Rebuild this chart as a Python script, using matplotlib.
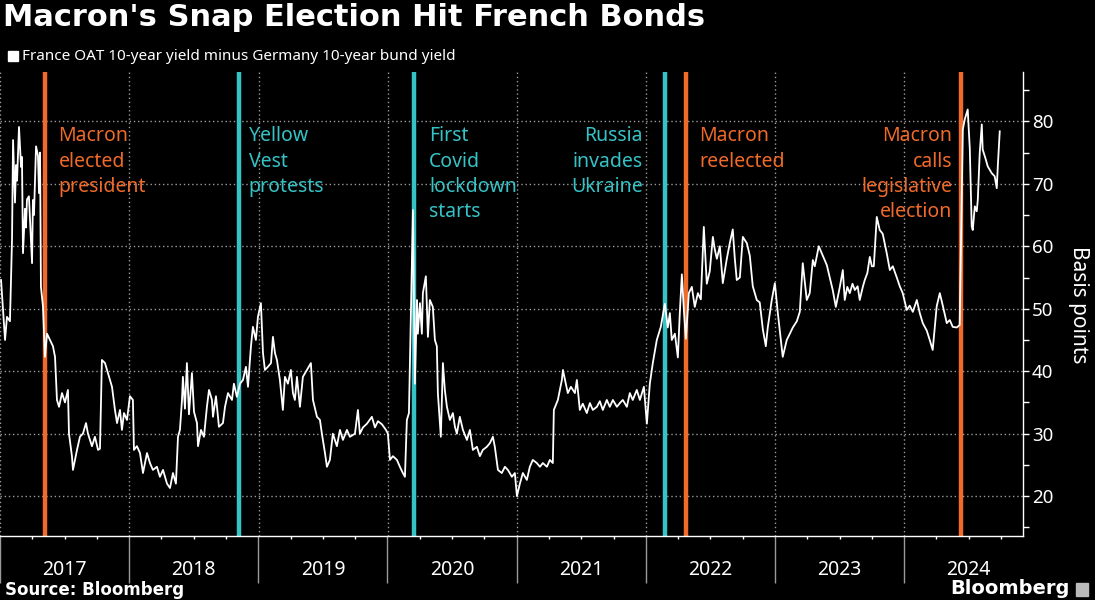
import matplotlib
matplotlib.use('Agg')
import matplotlib.pyplot as plt
from matplotlib.patches import Rectangle
from matplotlib.ticker import FixedLocator, MultipleLocator

# France OAT 10y minus Bund 10y spread, basis points
years = [
    2017.008, 2017.023, 2017.039, 2017.054, 2017.077, 2017.093, 2017.101, 2017.116, 2017.124, 2017.132,
    2017.147, 2017.163, 2017.170, 2017.178, 2017.194, 2017.201, 2017.209, 2017.224, 2017.248, 2017.255,
    2017.263, 2017.279, 2017.294, 2017.302, 2017.310, 2017.317, 2017.333, 2017.348, 2017.364, 2017.387,
    2017.410, 2017.426, 2017.441, 2017.457, 2017.480, 2017.503, 2017.526, 2017.534, 2017.557, 2017.565,
    2017.596, 2017.619, 2017.642, 2017.666, 2017.681, 2017.712, 2017.735, 2017.759, 2017.774, 2017.789,
    2017.813, 2017.836, 2017.867, 2017.890, 2017.906, 2017.929, 2017.944, 2017.960, 2017.983, 2018.006,
    2018.029, 2018.037, 2018.060, 2018.084, 2018.107, 2018.138, 2018.161, 2018.184, 2018.215, 2018.238,
    2018.262, 2018.293, 2018.316, 2018.339, 2018.362, 2018.378, 2018.393, 2018.409, 2018.416, 2018.432,
    2018.447, 2018.463, 2018.486, 2018.502, 2018.525, 2018.533, 2018.556, 2018.579, 2018.602, 2018.618,
    2018.641, 2018.649, 2018.672, 2018.695, 2018.726, 2018.742, 2018.765, 2018.796, 2018.811, 2018.834,
    2018.858, 2018.881, 2018.904, 2018.920, 2018.943, 2018.958, 2018.981, 2018.997, 2019.020, 2019.036,
    2019.051, 2019.074, 2019.098, 2019.113, 2019.129, 2019.144, 2019.167, 2019.190, 2019.206, 2019.229,
    2019.252, 2019.268, 2019.283, 2019.299, 2019.322, 2019.345, 2019.376, 2019.407, 2019.423, 2019.454,
    2019.477, 2019.492, 2019.516, 2019.531, 2019.554, 2019.577, 2019.608, 2019.632, 2019.655, 2019.686,
    2019.709, 2019.748, 2019.771, 2019.786, 2019.810, 2019.841, 2019.879, 2019.903, 2019.926, 2019.957,
    2019.988, 2020.003, 2020.019, 2020.042, 2020.073, 2020.096, 2020.119, 2020.135, 2020.150, 2020.166,
    2020.181, 2020.197, 2020.212, 2020.228, 2020.235, 2020.251, 2020.266, 2020.274, 2020.297, 2020.313,
    2020.328, 2020.351, 2020.367, 2020.382, 2020.390, 2020.413, 2020.429, 2020.444, 2020.460, 2020.483,
    2020.506, 2020.522, 2020.537, 2020.560, 2020.584, 2020.615, 2020.638, 2020.661, 2020.692, 2020.715,
    2020.738, 2020.769, 2020.793, 2020.816, 2020.831, 2020.855, 2020.885, 2020.909, 2020.932, 2020.963,
    2020.986, 2021.002, 2021.025, 2021.048, 2021.079, 2021.102, 2021.125, 2021.156, 2021.180, 2021.203,
    2021.234, 2021.257, 2021.280, 2021.288, 2021.319, 2021.350, 2021.358, 2021.381, 2021.396, 2021.420,
    2021.451, 2021.466, 2021.489, 2021.512, 2021.543, 2021.567, 2021.590, 2021.621, 2021.644, 2021.667,
    2021.698, 2021.721, 2021.745, 2021.776, 2021.799, 2021.822, 2021.853, 2021.876, 2021.899, 2021.930,
    2021.954, 2021.985, 2022.008, 2022.031, 2022.054, 2022.085, 2022.116, 2022.147, 2022.170, 2022.186,
    2022.201, 2022.225, 2022.248, 2022.263, 2022.279, 2022.294, 2022.310, 2022.333, 2022.356, 2022.379,
    2022.403, 2022.426, 2022.449, 2022.472, 2022.495, 2022.519, 2022.534, 2022.550, 2022.573, 2022.596,
    2022.627, 2022.650, 2022.673, 2022.689, 2022.704, 2022.728, 2022.751, 2022.782, 2022.805, 2022.828,
    2022.859, 2022.882, 2022.906, 2022.929, 2022.944, 2022.975, 2022.999, 2023.022, 2023.045, 2023.060,
    2023.091, 2023.115, 2023.138, 2023.169, 2023.192, 2023.215, 2023.246, 2023.269, 2023.293, 2023.308,
    2023.339, 2023.370, 2023.401, 2023.424, 2023.447, 2023.471, 2023.502, 2023.525, 2023.540, 2023.560,
    2023.579, 2023.600, 2023.618, 2023.640, 2023.656, 2023.680, 2023.695, 2023.715, 2023.734, 2023.750,
    2023.765, 2023.788, 2023.811, 2023.834, 2023.865, 2023.889, 2023.912, 2023.943, 2023.966, 2023.989,
    2024.020, 2024.043, 2024.067, 2024.098, 2024.121, 2024.144, 2024.175, 2024.198, 2024.221, 2024.252,
    2024.276, 2024.299, 2024.330, 2024.353, 2024.376, 2024.407, 2024.430, 2024.438, 2024.454, 2024.469,
    2024.492, 2024.508, 2024.523, 2024.531, 2024.547, 2024.562, 2024.570, 2024.585, 2024.601, 2024.608,
    2024.632, 2024.647, 2024.678, 2024.701, 2024.717, 2024.725, 2024.740,
]
spread = [
    54.6, 50.0, 45.0, 48.7, 48.0, 61.0, 77.0, 67.0, 73.0, 70.5,
    79.1, 72.7, 74.3, 58.9, 66.0, 63.0, 67.5, 68.0, 57.3, 67.4,
    65.0, 76.0, 74.5, 68.5, 75.0, 53.5, 50.3, 42.3, 46.0, 45.0,
    44.0, 42.3, 35.4, 34.3, 36.5, 35.0, 37.0, 30.0, 26.4, 24.2,
    27.4, 29.5, 30.0, 31.7, 30.0, 28.0, 29.5, 27.4, 27.6, 41.8,
    41.3, 39.7, 37.5, 33.8, 31.7, 33.8, 30.6, 33.3, 32.2, 36.0,
    35.4, 27.4, 28.0, 26.9, 23.7, 26.9, 25.3, 24.2, 24.7, 23.1,
    24.2, 22.0, 21.3, 23.7, 22.0, 29.5, 30.6, 35.4, 39.1, 34.0,
    41.3, 33.1, 39.7, 33.5, 31.7, 28.0, 30.6, 29.5, 34.3, 37.0,
    35.4, 32.7, 36.0, 31.1, 31.7, 34.3, 36.5, 35.4, 38.0, 35.9,
    38.0, 38.6, 40.7, 37.5, 44.0, 47.1, 45.0, 48.7, 50.9, 42.9,
    40.2, 40.7, 41.3, 45.5, 42.9, 41.8, 38.6, 33.8, 39.1, 38.0,
    40.2, 36.5, 35.4, 39.1, 34.3, 39.1, 40.2, 41.3, 35.4, 32.7,
    32.2, 30.0, 26.9, 24.7, 25.8, 30.0, 28.0, 30.6, 29.0, 30.6,
    29.5, 30.0, 33.8, 30.0, 31.0, 31.6, 32.7, 31.0, 32.0, 31.5,
    30.6, 30.0, 25.8, 26.4, 25.8, 24.7, 23.7, 23.1, 32.2, 33.3,
    49.3, 65.8, 38.0, 51.4, 46.0, 50.9, 46.0, 52.5, 55.2, 45.5,
    51.4, 50.3, 45.0, 44.0, 36.5, 29.5, 41.3, 37.0, 34.3, 32.2,
    33.3, 31.1, 30.0, 32.7, 30.6, 29.0, 30.6, 27.4, 27.9, 26.4,
    27.4, 27.9, 28.5, 29.5, 27.9, 24.2, 23.7, 24.7, 24.2, 23.1,
    23.7, 20.0, 22.0, 23.7, 22.6, 24.7, 25.8, 25.3, 24.7, 25.3,
    24.7, 25.8, 25.3, 33.8, 35.4, 38.6, 40.2, 38.0, 36.5, 37.5,
    36.5, 38.6, 33.8, 34.8, 33.3, 34.9, 33.8, 34.3, 35.2, 33.8,
    35.4, 34.3, 35.4, 34.3, 34.9, 35.4, 34.3, 36.5, 35.4, 37.0,
    35.4, 37.5, 31.6, 38.0, 41.3, 45.0, 47.1, 50.8, 47.0, 49.3,
    45.0, 46.0, 42.2, 49.3, 55.5, 50.0, 45.2, 52.5, 53.5, 50.3,
    52.5, 51.5, 63.1, 54.0, 56.0, 61.5, 59.5, 58.0, 60.0, 54.1,
    58.0, 60.5, 62.7, 58.0, 54.6, 55.0, 61.5, 60.5, 58.5, 53.6,
    51.4, 51.0, 46.7, 44.0, 47.0, 51.4, 54.1, 49.3, 45.0, 42.3,
    45.0, 46.0, 47.0, 48.0, 49.5, 57.3, 51.4, 52.5, 57.8, 56.8,
    60.0, 58.5, 57.0, 55.0, 53.0, 50.3, 53.5, 56.2, 51.4, 53.5,
    52.5, 54.0, 53.0, 53.6, 51.4, 53.5, 54.6, 55.7, 58.3, 56.8,
    56.8, 64.7, 62.6, 62.0, 58.9, 56.2, 56.8, 55.0, 53.6, 52.5,
    49.8, 50.5, 49.5, 51.4, 49.3, 47.7, 46.5, 45.0, 43.4, 50.4,
    52.5, 50.5, 47.7, 48.2, 47.1, 47.0, 47.4, 57.8, 78.7, 80.3,
    81.9, 75.7, 63.2, 62.6, 66.4, 65.6, 67.4, 74.9, 79.5, 75.5,
    73.9, 72.8, 71.7, 71.2, 69.3, 72.8, 78.4,
]

event_years = [2017.345, 2018.85, 2020.208, 2022.148, 2022.312, 2024.44]
event_labels = [
    'Macron\nelected\npresident',
    'Yellow\nVest\nprotests',
    'First\nCovid\nlockdown\nstarts',
    'Russia\ninvades\nUkraine',
    'Macron\nreelected',
    'Macron\ncalls\nlegislative\nelection',
]
event_is_election = [True, False, False, False, True, True]

year_labels = ['2017', '2018', '2019', '2020', '2021', '2022', '2023', '2024']
grid_years = [2017, 2018, 2019, 2020, 2021, 2022, 2023, 2024]
grid_bp = [20, 30, 40, 50, 60, 70, 80]

ORANGE = '#f06a2a'
TEAL = '#36c3c6'
BG = '#000000'
GRID = '#9c9c9c'

# label offsets from the event line, in points, and alignment
label_dx = [10, 7, 10.5, -16, 9.5, -6.5]
label_ha = ['left', 'left', 'left', 'right', 'left', 'right']

plt.rcParams['font.family'] = ['Noto Sans', 'DejaVu Sans']

fig = plt.figure(figsize=(10.95, 6.0), dpi=100, facecolor=BG)
ax = fig.add_axes([0.0, 0.1075, 0.934, 0.7725], facecolor=BG)

ax.set_xlim(2017.0, 2024.918)
ax.set_ylim(13.7, 87.9)

# dotted grid drawn explicitly
for gx in grid_years:
    ax.axvline(gx + 0.002, color=GRID, lw=1.0, linestyle=(0, (1, 2)), zorder=1)
for gy in grid_bp:
    ax.axhline(gy, color=GRID, lw=1.0, linestyle=(0, (1, 2)), zorder=1)

for x, label, elec, dx, ha in zip(event_years, event_labels, event_is_election, label_dx, label_ha):
    c = ORANGE if elec else TEAL
    ax.axvline(x, color=c, lw=3.2, zorder=2)
    ax.annotate(label, xy=(x, 1), xycoords=('data', 'axes fraction'),
                xytext=(dx, -39), textcoords='offset points',
                ha=ha, va='top', multialignment=ha, color=c,
                fontsize=14, linespacing=1.36)

ax.plot(years, spread, color='white', lw=1.3, zorder=3)

# axes styling
for side in ['top', 'left']:
    ax.spines[side].set_visible(False)
for side in ['right', 'bottom']:
    ax.spines[side].set_color('white')
    ax.spines[side].set_linewidth(1.0)

ax.xaxis.set_major_locator(FixedLocator(grid_years))
ax.xaxis.set_minor_locator(MultipleLocator(0.25))
ax.tick_params(axis='x', which='major', length=34, width=1, color='#9a9a9a', labelbottom=False)
ax.tick_params(axis='x', which='minor', length=2.5, width=1, color='white')

ax.yaxis.tick_right()
ax.yaxis.set_major_locator(MultipleLocator(10))
ax.yaxis.set_minor_locator(MultipleLocator(5))
ax.tick_params(axis='y', which='both', length=4.5, width=1, colors='white',
               labelsize=13.5, pad=2)

for i, lab in enumerate(year_labels):
    ax.text(2017.5 + i, -0.0744, lab, transform=ax.get_xaxis_transform(),
            ha='center', va='center', color='white', fontsize=14)

fig.text(1079 / 1095, 1 - 305 / 600, 'Basis points', rotation=270, ha='center', va='center',
         color='white', fontsize=15)

# header
fig.text(0.003, 1 - 18 / 600, "Macron's Snap Election Hit French Bonds", ha='left', va='center',
         color='white', fontsize=22, fontweight='bold', family='DejaVu Sans')
fig.patches.append(Rectangle((8 / 1095, 1 - 61 / 600), 10 / 1095, 10 / 600,
                             transform=fig.transFigure, color='white'))
fig.text(22 / 1095, 1 - 56 / 600, 'France OAT 10-year yield minus Germany 10-year bund yield',
         ha='left', va='center', color='white', fontsize=11)

# footer
fig.text(5 / 1095, 1 - 590 / 600, 'Source: Bloomberg', ha='left', va='center',
         color='white', fontsize=12, fontweight='bold', family='DejaVu Sans')
fig.text(1070 / 1095, 1 - 589 / 600, 'Bloomberg', ha='right', va='center',
         color='white', fontsize=14, fontweight='bold', family='DejaVu Sans')
fig.patches.append(Rectangle((1076 / 1095, 1 - 596 / 600), 12 / 1095, 13 / 600,
                             transform=fig.transFigure, color='#bbbbbb'))

fig.savefig('out.png', dpi=100, facecolor=BG)
